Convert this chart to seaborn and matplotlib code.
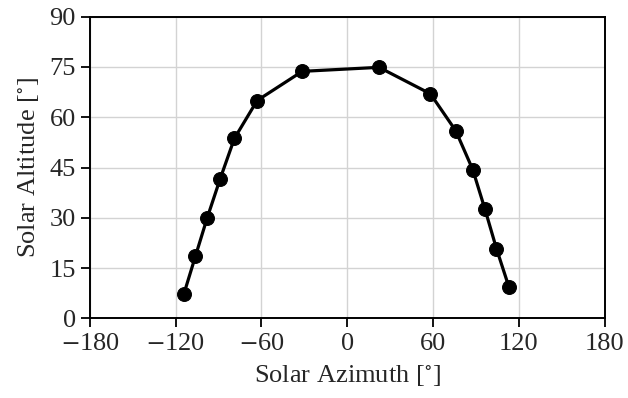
import matplotlib
matplotlib.use("Agg")
import matplotlib.pyplot as plt
import seaborn as sns
import pandas as pd

# Sun path samples over one day
azimuth = [-114.3, -106.2, -98.0, -88.9, -78.9, -63.0, -31.5, 22.2,
           58.1, 75.8, 87.7, 96.3, 104.3, 112.9]
altitude = [7.2, 18.5, 29.9, 41.6, 53.7, 65.0, 73.7, 74.9,
            67.0, 56.0, 44.4, 32.5, 20.8, 9.5]
x_ticks = [-180, -120, -60, 0, 60, 120, 180]
y_ticks = [0, 15, 30, 45, 60, 75, 90]

df = pd.DataFrame({"azimuth": azimuth, "altitude": altitude})

sns.set_style("whitegrid")
plt.rcParams["font.family"] = ["Liberation Serif", "DejaVu Serif"]
plt.rcParams["mathtext.fontset"] = "stix"

fig, ax = plt.subplots(figsize=(6.28, 3.98), dpi=100)
fig.subplots_adjust(left=0.143, right=0.963, top=0.958, bottom=0.2)

sns.lineplot(data=df, x="azimuth", y="altitude", sort=False, color="black",
             linewidth=2.3, marker="o", markersize=10, markeredgecolor="black",
             ax=ax)

ax.set_xlim(-180, 180)
ax.set_ylim(0, 90)
ax.set_xticks(x_ticks)
ax.set_yticks(y_ticks)
ax.set_xticklabels([f"$-${abs(v)}" if v < 0 else str(v) for v in x_ticks])
ax.set_xlabel("Solar Azimuth [$^{\\circ}$]", fontsize=19, labelpad=6)
ax.set_ylabel("Solar Altitude [$^{\\circ}$]", fontsize=19, labelpad=6)
ax.tick_params(axis="both", labelsize=19, direction="out", length=6.5,
               width=1.3, color="black", bottom=True, left=True)
ax.tick_params(axis="x", pad=4)
ax.tick_params(axis="y", pad=3.5)
ax.grid(True, color="#d3d3d3", linewidth=1.0)
for s in ax.spines.values():
    s.set_edgecolor("black")
    s.set_linewidth(1.4)

fig.savefig("out.png", dpi=100)
